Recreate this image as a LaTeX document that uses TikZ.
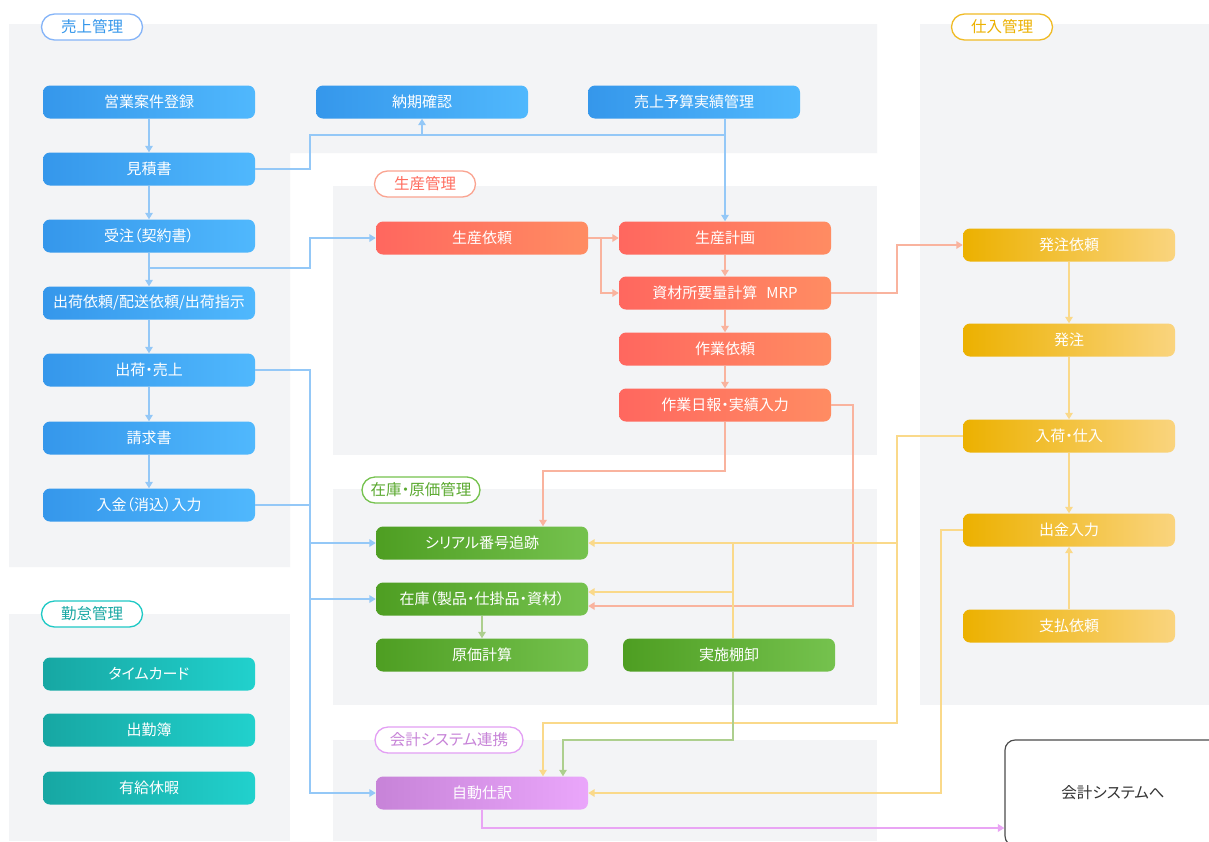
\documentclass[tikz,border=0pt]{standalone}
\usepackage{fontspec}
\setmainfont{Noto Sans CJK JP}[RawFeature=+palt]
\usetikzlibrary{arrows.meta}
\definecolor{panelc}{HTML}{F3F4F6}
\definecolor{bL}{HTML}{3597EB}\definecolor{bR}{HTML}{50B8FD}
\definecolor{sL}{HTML}{FF675F}\definecolor{sR}{HTML}{FF8C62}
\definecolor{gL}{HTML}{4E9E22}\definecolor{gR}{HTML}{75C24E}
\definecolor{yL}{HTML}{ECB100}\definecolor{yR}{HTML}{FAD47E}
\definecolor{tL}{HTML}{17A7A3}\definecolor{tR}{HTML}{21D1CD}
\definecolor{pL}{HTML}{C783D8}\definecolor{pR}{HTML}{EAA6FB}
\definecolor{bLine}{HTML}{94C8F7}
\definecolor{sLine}{HTML}{F9B39E}
\definecolor{yLine}{HTML}{FAD98A}
\definecolor{gLine}{HTML}{ADCF8E}
\definecolor{pLine}{HTML}{E9A5F4}
\begin{document}
\begin{tikzpicture}[x=1pt,y=-1pt,
  box/.style={rounded corners=7pt, minimum width=212pt, minimum height=33pt, inner sep=0pt,
    text=white, font=\fontsize{15pt}{17pt}\selectfont},
  bluebox/.style={box, left color=bL, right color=bR},
  salbox/.style={box, left color=sL, right color=sR},
  grnbox/.style={box, left color=gL, right color=gR},
  yelbox/.style={box, left color=yL, right color=yR},
  tealbox/.style={box, left color=tL, right color=tR},
  purbox/.style={box, left color=pL, right color=pR},
  pill/.style={rounded corners=13pt, minimum height=26pt, fill=white, line width=1.3pt,
    inner xsep=8pt, inner ysep=0pt, font=\fontsize{15.5pt}{17pt}\selectfont},
  panel/.style={fill=panelc},
  conn/.style={line width=1.8pt},
  tip/.style={-{Triangle[length=6.5pt,width=7.5pt]}},
  barr/.style={conn, draw=bLine, tip, color=bLine},
  bline/.style={conn, draw=bLine},
  sarr/.style={conn, draw=sLine, tip, color=sLine},
  yarr/.style={conn, draw=yLine, tip, color=yLine},
  yline/.style={conn, draw=yLine},
  garr/.style={conn, draw=gLine, tip, color=gLine},
  parr/.style={conn, draw=pLine, tip, color=pLine},
  acctbox/.style={draw=black!70, line width=1.2pt, rounded corners=10pt, fill=white,
    minimum width=216pt, minimum height=106pt, text=black!80,
    font=\fontsize{15.5pt}{17pt}\selectfont}
]
\useasboundingbox (0,0) rectangle (1209,841);
\clip (0,0) rectangle (1209,841);
\fill[white] (0,0) rectangle (1209,841);

% panels
\fill[panel] (9,24) -- (877,24) -- (877,153) -- (290,153) -- (290,567) -- (9,567) -- cycle;
\fill[panel] (333,186) rectangle (877,455);
\fill[panel] (333,489) rectangle (877,705);
\fill[panel] (333,740) rectangle (877,841);
\fill[panel] (920,24) rectangle (1209,705);
\fill[panel] (9,614) rectangle (290,841);

% pill labels
\node[pill, draw=bLine!90!blue, text=bL, minimum width=101pt] (lsales) at (92,27) {売上管理};
\node[pill, draw=tR!80!tL, text=tL, minimum width=101pt] (lkintai) at (92,614) {勤怠管理};
\node[pill, draw=sLine!80!sL, text=sL!85!sR, minimum width=101pt] (lseisan) at (425,184) {生産管理};
\node[pill, draw=gR, text=gL!70!gR, minimum width=118pt] (lzaiko) at (421,490) {在庫・原価管理};
\node[pill, draw=pR!80!pL, text=pL, minimum width=148pt] (lkaikei) at (449,740) {会計システム連携};
\node[pill, draw=yL!70!yR, text=yL, minimum width=101pt] (lshiire) at (1002,27) {仕入管理};

% sales nodes
\node[bluebox] (eigyo) at (149,102) {営業案件登録};
\node[bluebox] (mitsu) at (149,169) {見積書};
\node[bluebox] (juchu) at (149,236) {受注（契約書）};
\node[bluebox] (shiji) at (149,303) {出荷依頼/配送依頼/出荷指示};
\node[bluebox] (uriage) at (149,370) {出荷・売上};
\node[bluebox] (seikyu) at (149,438) {請求書};
\node[bluebox] (nyukin) at (149,505) {入金（消込）入力};
\node[bluebox] (nouki) at (422,102) {納期確認};
\node[bluebox] (yosan) at (694,102) {売上予算実績管理};

% production
\node[salbox] (seirai) at (482,238) {生産依頼};
\node[salbox] (seikei) at (725,238) {生産計画};
\node[salbox] (mrp) at (725,293) {資材所要量計算\hspace{9pt}MRP};
\node[salbox] (sagyo) at (725,349) {作業依頼};
\node[salbox] (nippo) at (725,405) {作業日報・実績入力};

% inventory
\node[grnbox] (serial) at (482,543) {シリアル番号追跡};
\node[grnbox] (zaiko) at (482,599) {在庫（製品・仕掛品・資材）};
\node[grnbox] (genka) at (482,655) {原価計算};
\node[grnbox] (tana) at (729,655) {実施棚卸};

% accounting
\node[purbox] (jido) at (482,793) {自動仕訳};
\node[acctbox] (acct) at (1113,793) {会計システムへ};

% purchasing
\node[yelbox] (hatrai) at (1069,245) {発注依頼};
\node[yelbox] (hatchu) at (1069,340) {発注};
\node[yelbox] (nyuka) at (1069,436) {入荷・仕入};
\node[yelbox] (shukkin) at (1069,530) {出金入力};
\node[yelbox] (shiharai) at (1069,626) {支払依頼};

% attendance
\node[tealbox] (card) at (149,674) {タイムカード};
\node[tealbox] (kinmu) at (149,730) {出勤簿};
\node[tealbox] (yukyu) at (149,788) {有給休暇};

% helper coordinates
\coordinate (busx) at (310,0);
\coordinate (by) at (310,135);
\coordinate (bj) at (149,268);
\coordinate (rx) at (897,0);
\coordinate (s1) at (543,471);
\coordinate (s2) at (853,606);
\coordinate (y1) at (897,723);
\coordinate (y2) at (543,723);
\coordinate (tx) at (733,0);
\coordinate (y3) at (733,592);
\coordinate (y4) at (941,793);
\coordinate (g1) at (733,740);
\coordinate (g2) at (563,740);
\coordinate (p1) at (482,828);

% blue connectors
\draw[barr] (eigyo) -- (mitsu);
\draw[barr] (mitsu) -- (juchu);
\draw[barr] (juchu) -- (shiji);
\draw[barr] (shiji) -- (uriage);
\draw[barr] (uriage) -- (seikyu);
\draw[barr] (seikyu) -- (nyukin);
\draw[barr] (mitsu.east) -| (by) -| (nouki.south);
\draw[bline] (nouki.south |- by) -- (seikei.north |- by);
\draw[barr] (seikei.north |- yosan.south) -- (seikei.north);
\draw[barr] (bj) -| (busx |- seirai.west) -- (seirai.west);
\draw[barr] (uriage.east) -| (busx |- jido.west) -- (jido.west);
\draw[bline] (nyukin.east) -- (busx |- nyukin.east);
\draw[barr] (busx |- serial.west) -- (serial.west);
\draw[barr] (busx |- zaiko.west) -- (zaiko.west);

% salmon connectors
\draw[sarr] (seirai) -- (seikei);
\draw[sarr] ([xshift=13pt]seirai.east) |- (mrp.west);
\draw[sarr] (seikei) -- (mrp);
\draw[sarr] (mrp) -- (sagyo);
\draw[sarr] (sagyo) -- (nippo);
\draw[sarr] (mrp.east) -| (rx |- hatrai.west) -- (hatrai.west);
\draw[sarr] (nippo.south) |- (s1) -- (s1 |- serial.north);
\draw[sarr] (nippo.east) -| (s2) -- (s2 -| zaiko.east);

% yellow connectors
\draw[yarr] (hatrai) -- (hatchu);
\draw[yarr] (hatchu) -- (nyuka);
\draw[yarr] (nyuka) -- (shukkin);
\draw[yarr] (shiharai) -- (shukkin);
\draw[yarr] (nyuka.west) -| (y1) -- (y2) -- (y2 |- jido.north);
\draw[yarr] (rx |- serial.east) -- (serial.east);
\draw[yline] (tx |- tana.north) -- (tx |- serial.east);
\draw[yarr] (y3) -- (y3 -| zaiko.east);
\draw[yarr] (shukkin.west) -| (y4) -- (jido.east);

% green connectors
\draw[garr] (tx |- tana.south) -- (g1) -- (g2) -- (g2 |- jido.north);
\draw[garr] (zaiko) -- (genka);

% purple connector
\draw[parr] (jido.south) -- (p1) -- (p1 -| acct.west);
\end{tikzpicture}
\end{document}
